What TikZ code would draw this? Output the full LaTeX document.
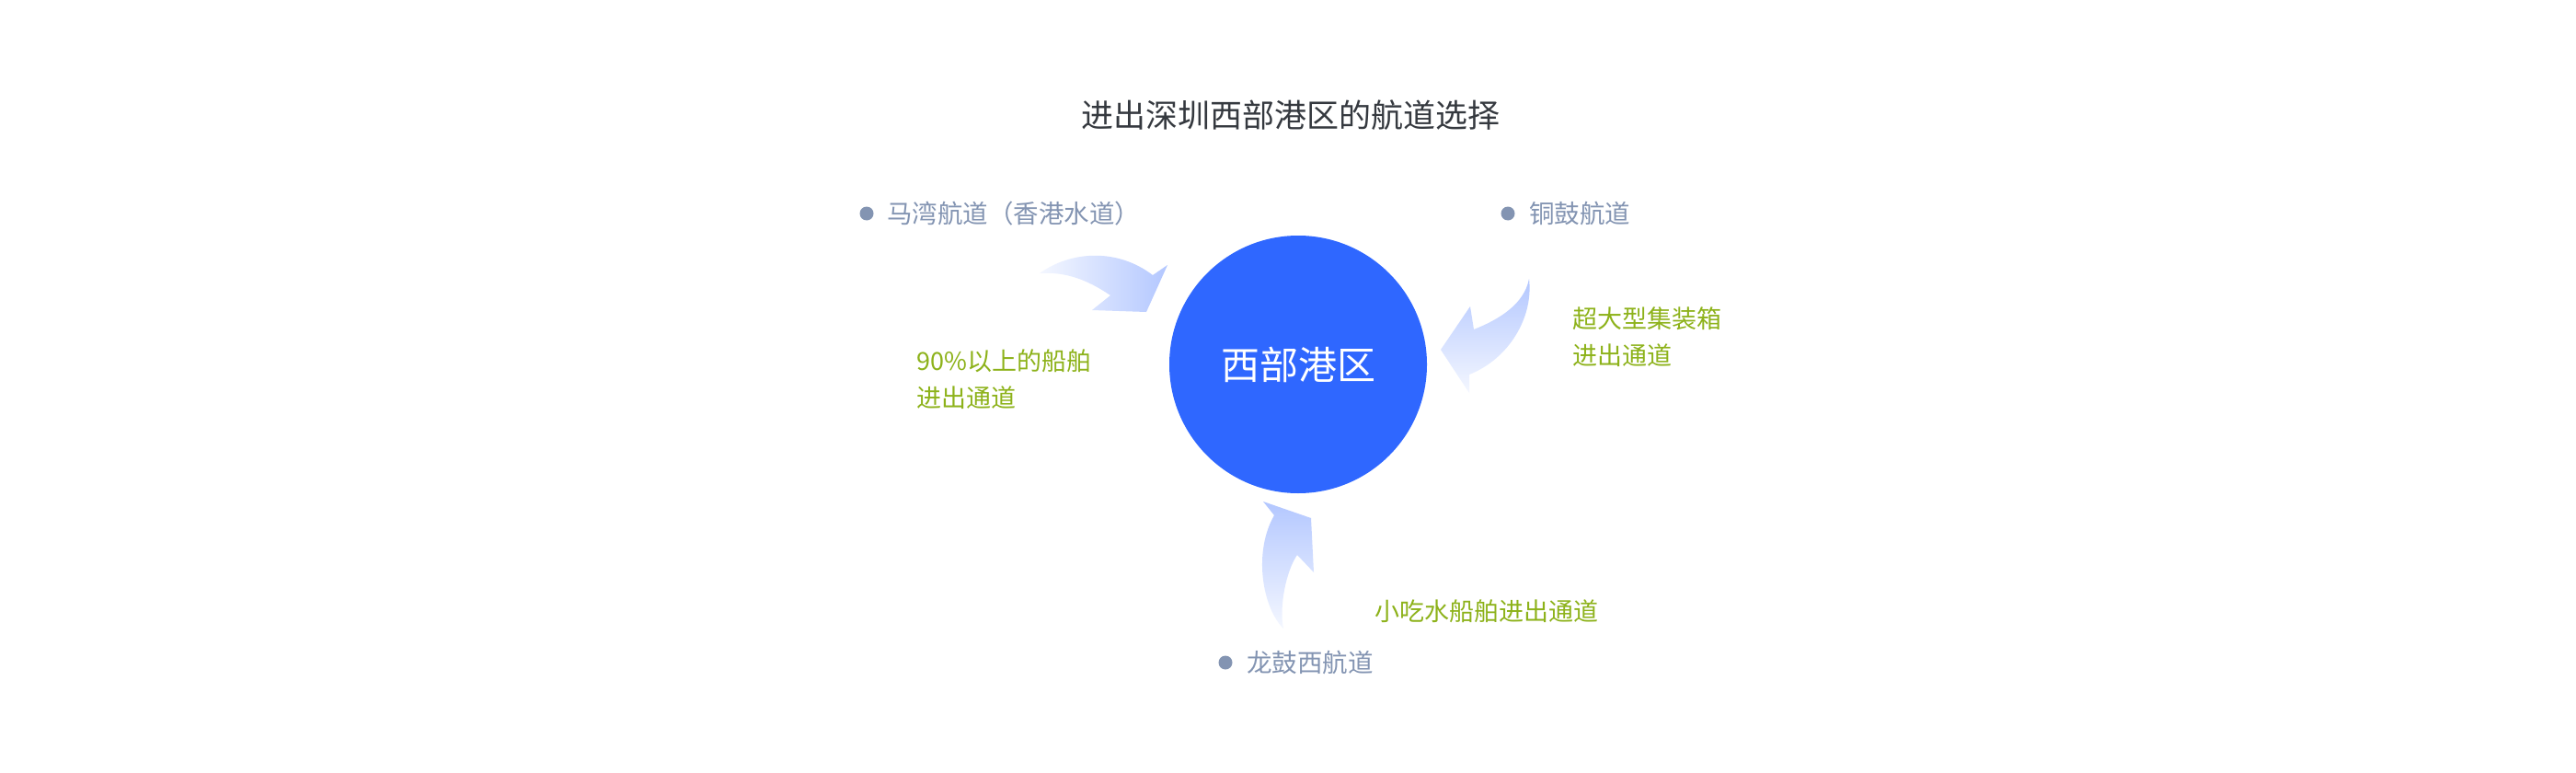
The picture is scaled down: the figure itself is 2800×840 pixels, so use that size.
\documentclass[tikz,border=0pt]{standalone}
\usepackage{fontspec}
\setmainfont{Noto Sans CJK SC}
\definecolor{portblue}{HTML}{2F67FF}
\definecolor{routegray}{HTML}{8394B2}
\definecolor{notegreen}{HTML}{8DB21A}
\definecolor{titlegray}{HTML}{35393F}
\definecolor{arrowdeep}{HTML}{B3C7FF}
\definecolor{arrowpale}{HTML}{F4F7FF}
\tikzset{
  titletext/.style={font=\fontsize{35}{42}\selectfont, text=titlegray, inner sep=0pt},
  routetext/.style={font=\fontsize{27.5}{33}\selectfont, text=routegray, inner sep=0pt, anchor=west},
  notetext/.style={font=\fontsize{27}{39.5}\selectfont, text=notegreen, inner sep=0pt, anchor=west, align=left},
  routedot/.style={circle, fill=routegray, minimum size=15pt, inner sep=0pt},
  hub/.style={circle, fill=portblue, minimum size=280pt, inner sep=0pt, text=white, font=\fontsize{42}{50}\selectfont},
  flowH/.style={left color=arrowpale, right color=arrowdeep, draw=none},
  flowV/.style={top color=arrowdeep, bottom color=arrowpale, draw=none},
}
\begin{document}
\begin{tikzpicture}[x=1pt,y=-1pt]
\useasboundingbox[fill=white] (0,0) rectangle (2800,840);

\node[titletext] (title) at (1403,125) {进出深圳西部港区的航道选择};

\node[hub] (port) at (1411,396) {西部港区};

\node[routedot] (d1) at (942,232) {};
\node[routetext] (r1) at (964,232) {马湾航道（香港水道）};
\node[routedot] (d2) at (1639,232) {};
\node[routetext] (r2) at (1662,232) {铜鼓航道};
\node[routedot] (d3) at (1332,720) {};
\node[routetext] (r3) at (1355,720) {龙鼓西航道};

\node[notetext] (n1) at (996,412) {90\%以上的船舶\\进出通道};
\node[notetext] (n2) at (1709,366) {超大型集装箱\\进出通道};
\node[notetext] (n3) at (1494,664) {小吃水船舶进出通道};

% arrow from Ma Wan
\path[flowH] (1130,297) .. controls (1165,272) and (1215,270) .. (1253,299)
  -- (1269,288) -- (1246,339) -- (1187,337) -- (1207,321)
  .. controls (1182,304) and (1158,295) .. (1130,297) -- cycle;
% arrow from Tonggu
\path[flowV] (1662,303) .. controls (1667,345) and (1640,390) .. (1597,407)
  -- (1597,427) -- (1566,380) -- (1598,333) -- (1602,358)
  .. controls (1630,347) and (1657,330) .. (1662,303) -- cycle;
% arrow from Longgu West
\path[flowV] (1373,545) -- (1425,563) -- (1428,622) -- (1410,603)
  .. controls (1398,620) and (1390,660) .. (1395,683)
  .. controls (1372,660) and (1362,600) .. (1385,560) -- cycle;
\end{tikzpicture}
\end{document}
